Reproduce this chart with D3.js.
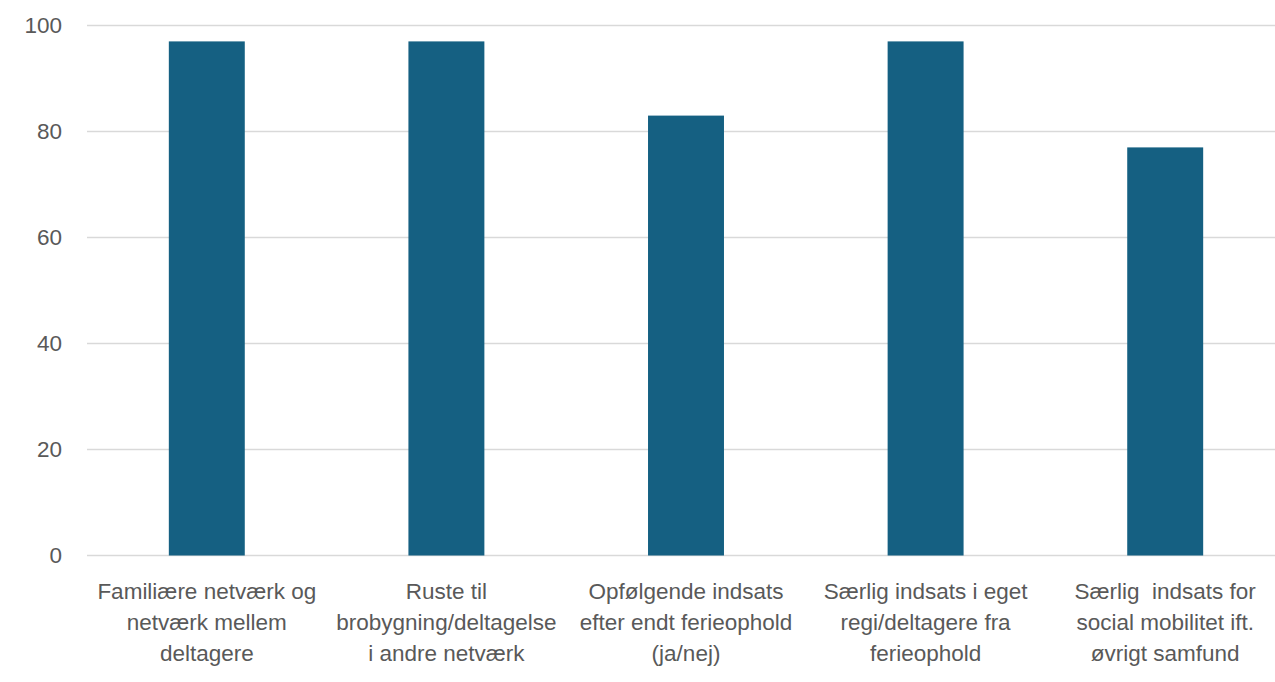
<!DOCTYPE html>
<html><head><meta charset="utf-8">
<script src="https://cdn.jsdelivr.net/npm/d3@7"></script>
<style>body{margin:0;background:#fff}svg{display:block}text{font-family:"Liberation Sans",Arial,sans-serif;white-space:pre}</style>
</head><body><svg id="c" width="1275" height="682"></svg>
<script>
const categories = [
  ["Familiære netværk og","netværk mellem","deltagere"],
  ["Ruste til","brobygning/deltagelse","i andre netværk"],
  ["Opfølgende indsats","efter endt ferieophold","(ja/nej)"],
  ["Særlig indsats i eget","regi/deltagere fra","ferieophold"],
  ["Særlig  indsats for","social mobilitet ift.","øvrigt samfund"]
];
const values = [97, 97, 83, 97, 77];
const yTicks = [0, 20, 40, 60, 80, 100];

const svg = d3.select("#c");
const x = d3.scaleBand().domain(d3.range(categories.length)).range([87, 1285]).paddingInner(0.683).paddingOuter(0.3415);
const y = d3.scaleLinear().domain([0, 100]).range([555.5, 25.5]);

svg.append("g").selectAll("line").data(yTicks).join("line")
  .attr("x1", 87).attr("x2", 1275).attr("y1", d => y(d)).attr("y2", d => y(d))
  .attr("stroke", "#d9d9d9").attr("stroke-width", 1.5);

svg.append("g").selectAll("text").data(yTicks).join("text")
  .attr("x", 62).attr("y", d => y(d)).attr("dy", "0.35em").attr("text-anchor", "end")
  .attr("font-size", 22.5).attr("fill", "#595959").text(d => d);

svg.append("g").selectAll("rect").data(values).join("rect")
  .attr("x", (d, i) => x(i)).attr("width", x.bandwidth())
  .attr("y", d => y(d)).attr("height", d => y(0) - y(d))
  .attr("fill", "#156082");

const lab = svg.append("g").selectAll("text").data(categories).join("text")
  .attr("text-anchor", "middle").attr("font-size", 22.5).attr("fill", "#595959");
lab.selectAll("tspan").data((d, i) => d.map(t => ({t, i}))).join("tspan")
  .attr("x", d => x(d.i) + x.bandwidth() / 2)
  .attr("y", (d, j) => 599 + j * 31)
  .text(d => d.t);
</script></body></html>
